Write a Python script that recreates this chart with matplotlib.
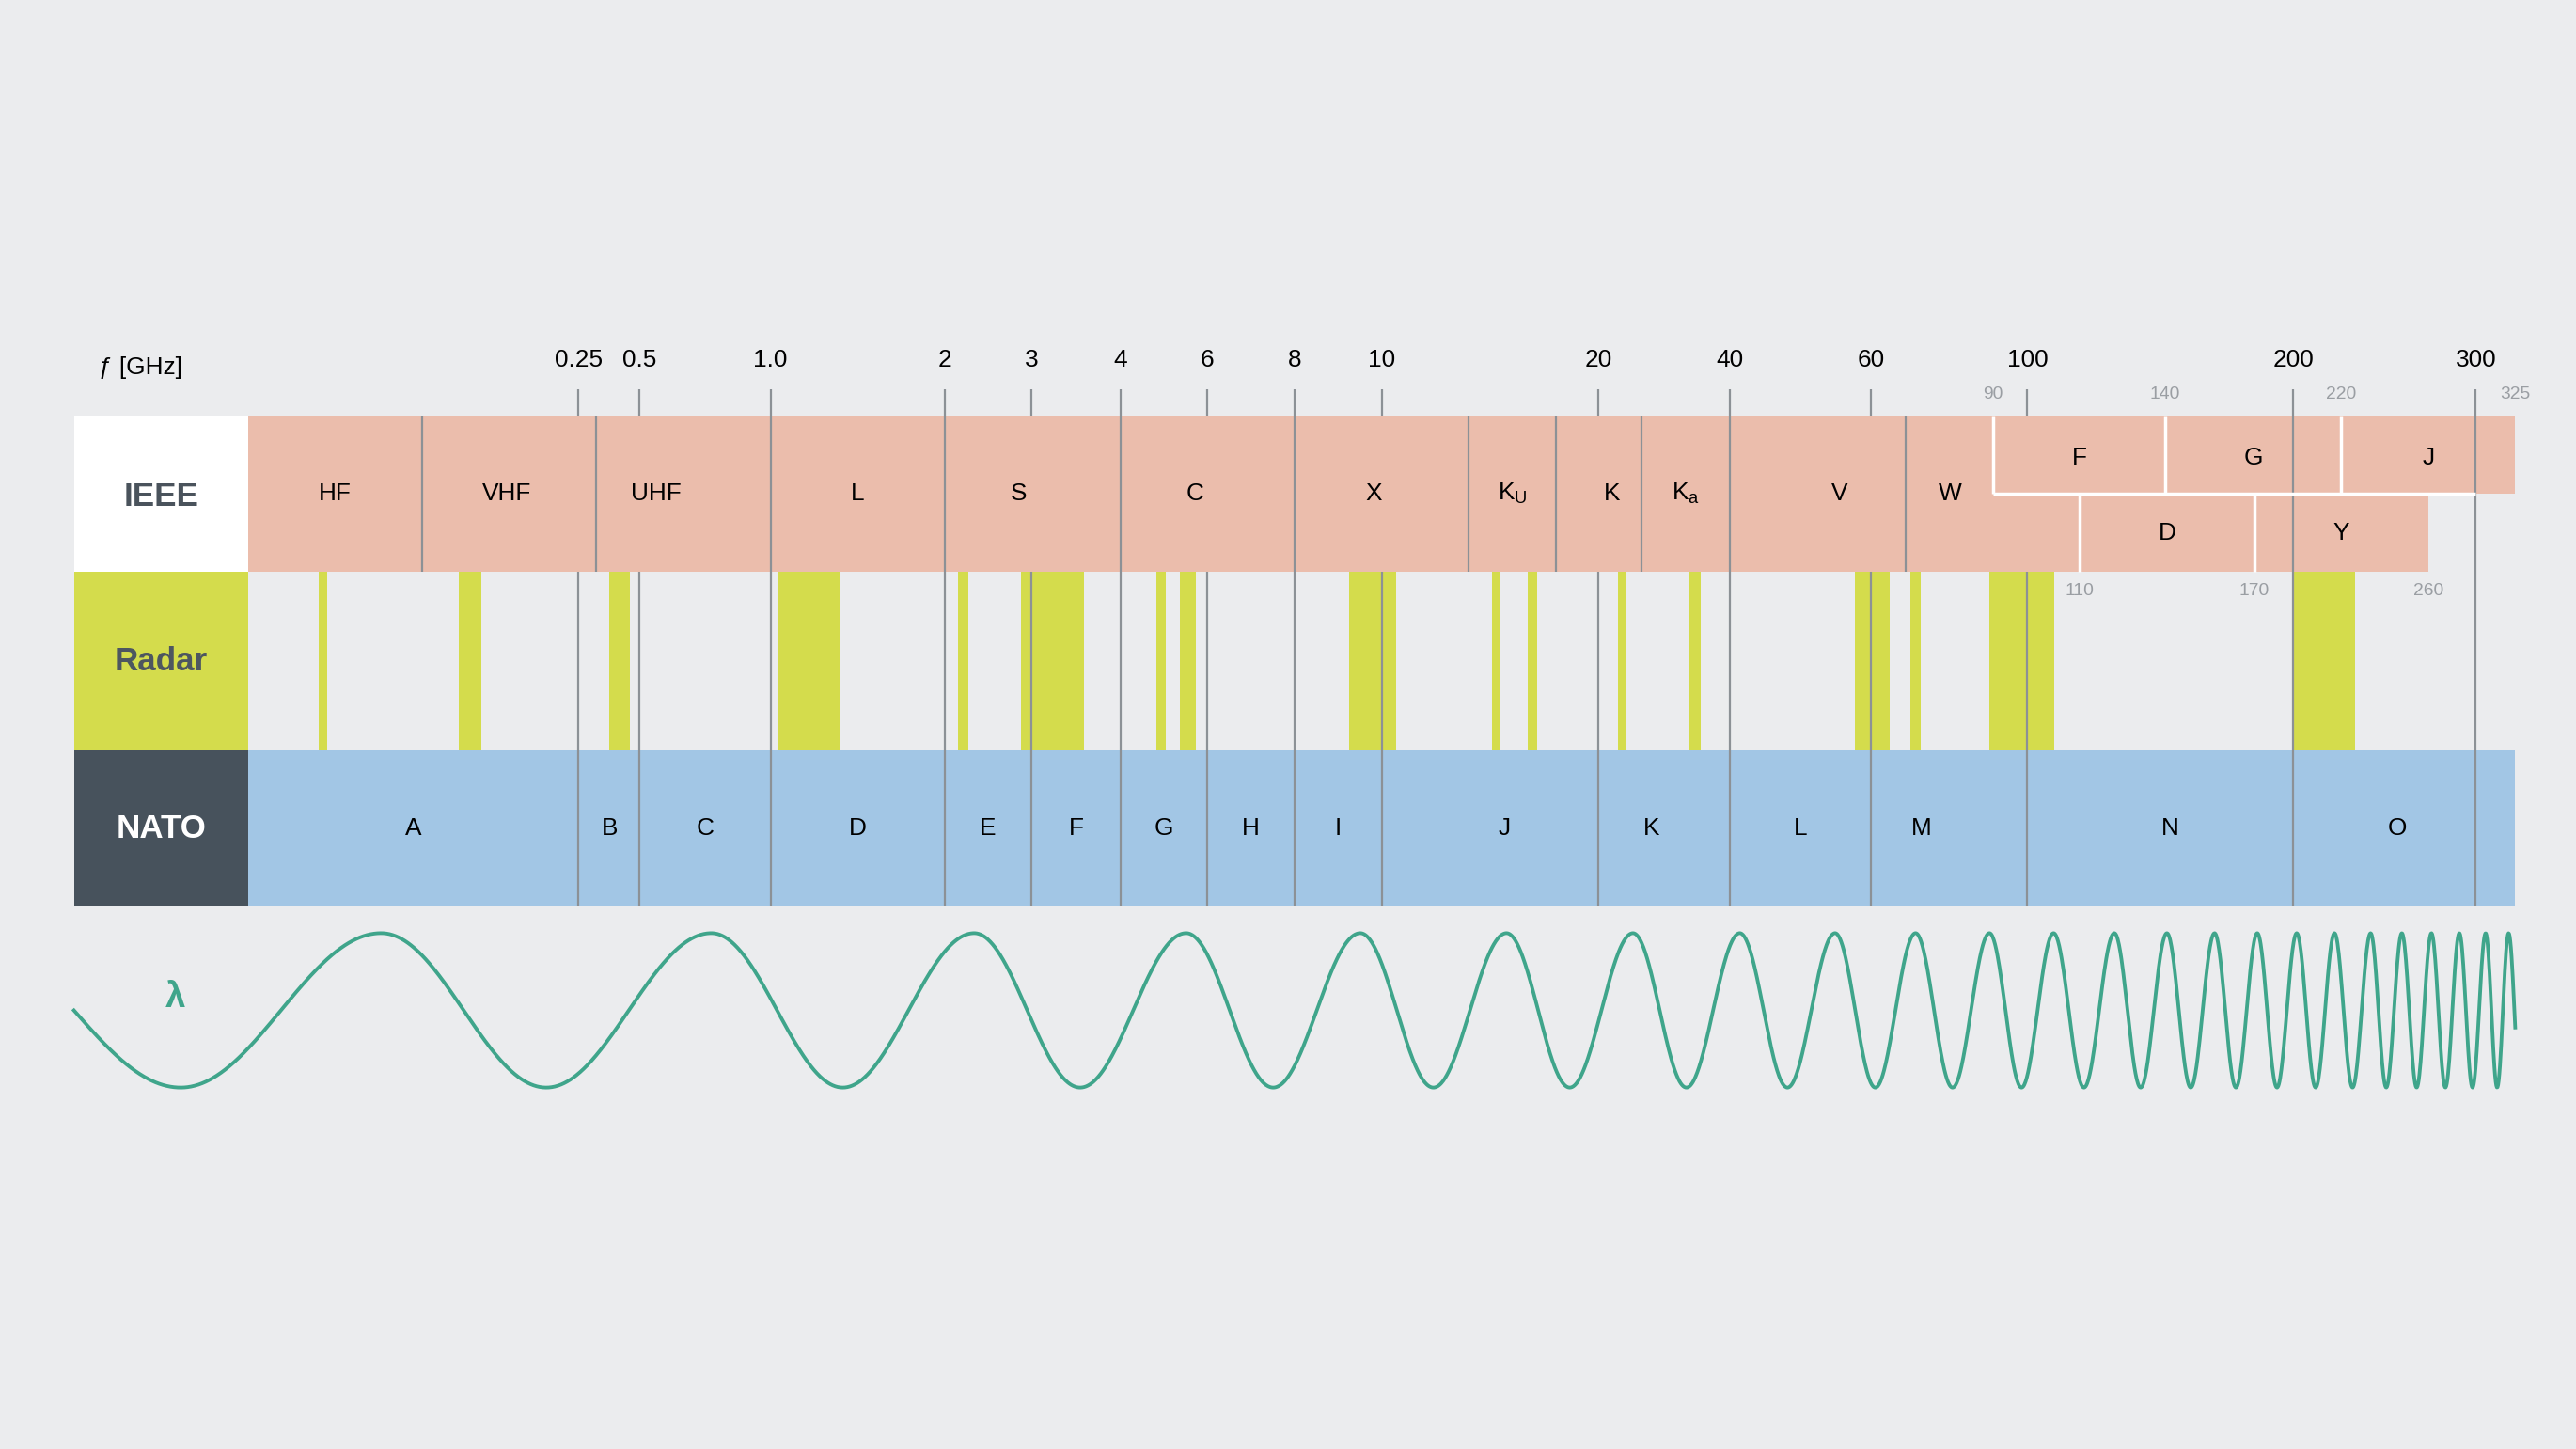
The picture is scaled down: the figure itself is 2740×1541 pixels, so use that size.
import numpy as np
import matplotlib
matplotlib.use("Agg")
from matplotlib import pyplot as plt
from matplotlib.patches import Rectangle

plt.rcParams['font.family'] = 'Liberation Sans'
plt.rcParams['mathtext.fontset'] = 'custom'
plt.rcParams['mathtext.rm'] = 'Liberation Sans'

# frequency scale anchors (GHz -> reference position)
scale_freq = [0.003, 0.03, 0.25, 0.3, 0.5, 1, 2, 3, 4, 6, 8, 10, 12, 18, 20, 27, 40, 60,
              75, 90, 100, 110, 140, 170, 200, 220, 260, 300, 325]
scale_pos = [151, 257, 352, 363, 389, 469, 575, 628, 682, 735, 788, 841, 894, 947, 973,
             999, 1053, 1139, 1160, 1213, 1234, 1266, 1318, 1372, 1396, 1425, 1478, 1507, 1531]

tick_freq = [0.25, 0.5, 1.0, 2, 3, 4, 6, 8, 10, 20, 40, 60, 100, 200, 300]
tick_labels = ['0.25', '0.5', '1.0', '2', '3', '4', '6', '8', '10', '20', '40', '60', '100', '200', '300']

ieee_names = ['HF', 'VHF', 'UHF', 'L', 'S', 'C', 'X', r'K$_\mathrm{U}$', 'K', r'K$_\mathrm{a}$', 'V']
ieee_edges = [0.003, 0.03, 0.3, 1, 2, 4, 8, 12, 18, 27, 40, 75]
ieee_w = (75, 110)
ieee_upper = [('F', 90, 140), ('G', 140, 220), ('J', 220, 325)]
ieee_lower = [('D', 110, 170), ('Y', 170, 260)]
upper_small = [90, 140, 220, 325]
lower_small = [110, 170, 260]

radar_bands = [(0.0076, 0.0085), (0.049, 0.067), (0.35, 0.45), (1.03, 1.32), (2.13, 2.23),
               (2.86, 3.55), (4.73, 4.95), (5.27, 5.68), (9.2, 10.3), (13.4, 13.9),
               (15.8, 16.5), (23, 24.3), (33.4, 35.1), (57.2, 67.5), (75.8, 77.4),
               (89.4, 105), (200, 226)]

nato_names = ['A', 'B', 'C', 'D', 'E', 'F', 'G', 'H', 'I', 'J', 'K', 'L', 'M', 'N', 'O']
nato_edges = [0.003, 0.25, 0.5, 1, 2, 3, 4, 6, 8, 10, 20, 40, 60, 100, 200, 300]
nato_end = 325

# wave: x of crests (reference positions), first trough at 110
wave_peaks = [232, 433, 593, 722, 828, 917, 994, 1059, 1117, 1166, 1211, 1250, 1287, 1319,
              1348, 1374, 1398, 1421, 1443, 1462, 1480, 1497, 1513, 1527]

BG = '#ebecee'
SALMON = '#ebbdac'
YELLOW = '#d4dc4c'
BLUE = '#a2c6e5'
DARK = '#47525c'
GRAY = '#8c9196'
GREEN = '#3fa58b'
PT = 1.258  # points per reference pixel

W, H = 1568, 882
fig = plt.figure(figsize=(27.4, 15.41), dpi=100, facecolor=BG)

lf = np.log10(scale_freq)
fwd = lambda f: np.interp(np.log10(np.clip(f, 1e-6, None)), lf, scale_pos)
inv = lambda p: 10 ** np.interp(p, scale_pos, lf)

# background axes in reference pixel coordinates
bg = fig.add_axes([0, 0, 1, 1])
bg.set_xlim(0, W); bg.set_ylim(H, 0); bg.axis('off')

ax = fig.add_axes([151 / W, 0, (1531 - 151) / W, 1], zorder=2)
ax.set_xscale('function', functions=(fwd, inv))
ax.set_xlim(0.003, 325)
ax.set_ylim(H, 0)
ax.axis('off')
ax.patch.set_alpha(0)

y0, y1, y2, y3 = 253, 348, 457, 552
ym = (y0 + y1) / 2

def rect(a, b, top, bot, color, z=1):
    ax.add_patch(Rectangle((a, top), b - a, bot - top, facecolor=color, edgecolor='none', zorder=z))

# IEEE
for n, a, b in zip(ieee_names, ieee_edges[:-1], ieee_edges[1:]):
    rect(a, b, y0, y1, SALMON)
    ax.text(np.sqrt(a * b), (y0 + y1) / 2, n, ha='center', va='center', fontsize=15 * PT, zorder=5)
rect(ieee_w[0], ieee_w[1], y0, y1, SALMON)
ax.text(inv(1187), (y0 + y1) / 2, 'W', ha='center', va='center', fontsize=15 * PT, zorder=5)
for n, a, b in ieee_upper:
    rect(a, b, y0, ym, SALMON)
    ax.vlines(a, y0, ym, color='white', lw=2.5, zorder=4)
    ax.text(inv((fwd(a) + fwd(b)) / 2), ym - 22, n, ha='center', va='center', fontsize=15 * PT, zorder=5)
for n, a, b in ieee_lower:
    rect(a, b, ym, y1, SALMON)
    ax.vlines(a, ym, y1, color='white', lw=2.5, zorder=4)
    ax.text(inv((fwd(a) + fwd(b)) / 2), ym + 24, n, ha='center', va='center', fontsize=15 * PT, zorder=5)
ax.hlines(ym, 90, 300, color='white', lw=2.5, zorder=4)
for e in ieee_edges[1:]:
    ax.vlines(e, y0, y1, color=GRAY, lw=1.6, zorder=3)
for f in upper_small:
    ax.text(f, y0 - 13, str(f), ha='center', va='center', color='#9a9ea3', fontsize=11 * PT)
for f in lower_small:
    ax.text(f, y1 + 12, str(f), ha='center', va='center', color='#9a9ea3', fontsize=11 * PT)

# Radar
for a, b in radar_bands:
    rect(a, b, y1, y2, YELLOW)

# NATO
for n, a, b in zip(nato_names, nato_edges[:-1], nato_edges[1:]):
    rect(a, b, y2, y3, BLUE)
    ax.text(np.sqrt(a * b) if n != 'A' else inv((151 + fwd(b)) / 2), (y2 + y3) / 2, n,
            ha='center', va='center', fontsize=15 * PT, zorder=5)
rect(nato_edges[-1], nato_end, y2, y3, BLUE)

# ticks and lines
for f, t in zip(tick_freq, tick_labels):
    ax.text(f, 219, t, ha='center', va='center', fontsize=15 * PT)
    top = 237
    ax.vlines(f, top, y0, color=GRAY, lw=1.6, zorder=3)
    ax.vlines(f, y1, y3, color=GRAY, lw=1.6, zorder=3)
    if f in (200, 300):
        ax.vlines(f, y0, y1, color=GRAY, lw=1.6, zorder=3)

# label column
bg.add_patch(Rectangle((45, y0), 106, y1 - y0, facecolor='white', edgecolor='none'))
bg.add_patch(Rectangle((45, y1), 106, y2 - y1, facecolor=YELLOW, edgecolor='none'))
bg.add_patch(Rectangle((45, y2), 106, y3 - y2, facecolor=DARK, edgecolor='none'))
bg.text(98, (y0 + y1) / 2 + 2, 'IEEE', ha='center', va='center', fontsize=20 * PT, weight='bold', color='#4a535c')
bg.text(98, (y1 + y2) / 2, 'Radar', ha='center', va='center', fontsize=20 * PT, weight='bold', color='#4d5660')
bg.text(98, (y2 + y3) / 2, 'NATO', ha='center', va='center', fontsize=20 * PT, weight='bold', color='white')
bg.text(60, 224, 'ƒ [GHz]', ha='left', va='center', fontsize=15 * PT)

# wave
xs = np.linspace(45, 1531, 4000)
px = [45, 110] + wave_peaks
ph = [-1.5 * np.pi, -np.pi] + [2 * np.pi * k for k in range(len(wave_peaks))]
slope = (ph[-1] - ph[-2]) / (px[-1] - px[-2])
phase = np.interp(xs, px, ph) + np.where(xs > px[-1], (xs - px[-1]) * slope, 0)
bg.plot(xs, 615 - 47 * np.cos(phase), color=GREEN, lw=2.2 * PT)
bg.text(107, 607, 'λ', ha='center', va='center', fontsize=22 * PT, weight='bold', color=GREEN)

fig.savefig('out.png', dpi=100, facecolor=BG)
